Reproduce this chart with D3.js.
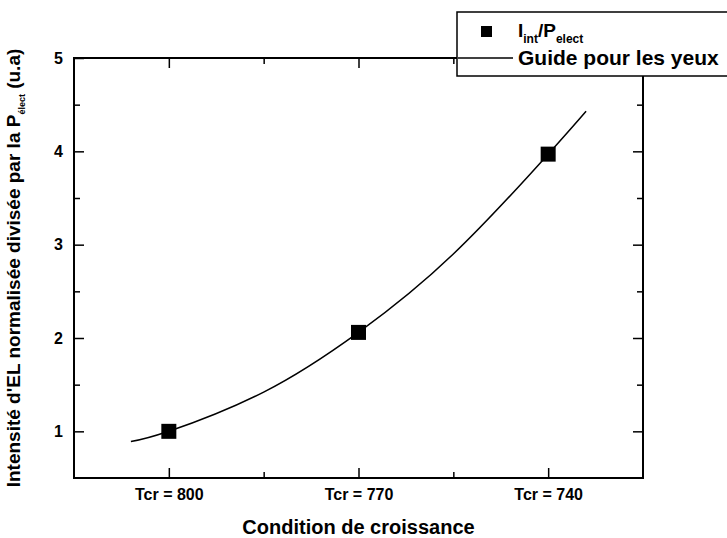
<!DOCTYPE html>
<html lang="fr">
<head>
  <meta charset="UTF-8">
  <title>Intensité EL</title>
  <style>
    body { margin: 0; background: #fff; }
    svg text { font-family: "Liberation Sans", Arial, sans-serif; font-weight: bold; fill: #000; }
  </style>
</head>
<body>
<div id="chart"></div>

<script src="https://cdn.jsdelivr.net/npm/d3@7/dist/d3.min.js"></script>
<script>
  // data
  const categories = ["Tcr = 800", "Tcr = 770", "Tcr = 740"];
  const ratioValues = [1.0, 2.06, 3.97];
  // guide curve ("Guide pour les yeux")
  const guideX = [-0.2, 0, 0.5, 1, 1.5, 2, 2.2];
  const guideY = [0.89, 1.0, 1.42, 2.06, 2.90, 3.97, 4.43];
  const yTicks = [1, 2, 3, 4, 5];
  const yMinorTicks = [1.5, 2.5, 3.5, 4.5];

  const W = 727, H = 538;
  const margin = {top: 58, right: 84, bottom: 60, left: 74},
    width = W - margin.left - margin.right,
    height = H - margin.top - margin.bottom;

  const svg = d3.select("#chart")
    .append("svg")
    .attr("width", W)
    .attr("height", H);

  const g = svg.append("g")
    .attr("transform", "translate(" + margin.left + "," + margin.top + ")");

  const x = d3.scaleLinear().domain([-0.5, 2.5]).range([0, width]);
  const y = d3.scaleLinear().domain([0.5, 5]).range([height, 0]);

  const catIdx = categories.map((d, i) => i);
  const xMinor = [0.5, 1.5];

  function styleAxis(sel) {
    sel.select(".domain").remove();
    sel.selectAll("line").attr("stroke", "#000").attr("stroke-width", 1.5);
    sel.selectAll("text").style("font-size", "16px");
  }

  // bottom axis
  g.append("g")
    .attr("transform", "translate(0," + height + ")")
    .call(d3.axisBottom(x).tickValues(catIdx).tickFormat(i => categories[i])
      .tickSizeInner(-10).tickSizeOuter(0).tickPadding(11))
    .call(styleAxis);
  g.append("g")
    .attr("transform", "translate(0," + height + ")")
    .call(d3.axisBottom(x).tickValues(xMinor).tickFormat("").tickSizeInner(-6).tickSizeOuter(0))
    .call(styleAxis);

  // top axis
  g.append("g")
    .call(d3.axisTop(x).tickValues(catIdx).tickFormat("").tickSizeInner(-10).tickSizeOuter(0))
    .call(styleAxis);
  g.append("g")
    .call(d3.axisTop(x).tickValues(xMinor).tickFormat("").tickSizeInner(-6).tickSizeOuter(0))
    .call(styleAxis);

  // left axis
  g.append("g")
    .call(d3.axisLeft(y).tickValues(yTicks).tickFormat(d3.format("d"))
      .tickSizeInner(-10).tickSizeOuter(0).tickPadding(11))
    .call(styleAxis);
  g.append("g")
    .call(d3.axisLeft(y).tickValues(yMinorTicks).tickFormat("").tickSizeInner(-6).tickSizeOuter(0))
    .call(styleAxis);

  // right axis
  g.append("g")
    .attr("transform", "translate(" + width + ",0)")
    .call(d3.axisRight(y).tickValues(yTicks).tickFormat("").tickSizeInner(-10).tickSizeOuter(0))
    .call(styleAxis);
  g.append("g")
    .attr("transform", "translate(" + width + ",0)")
    .call(d3.axisRight(y).tickValues(yMinorTicks).tickFormat("").tickSizeInner(-6).tickSizeOuter(0))
    .call(styleAxis);

  // frame
  g.append("rect")
    .attr("width", width)
    .attr("height", height)
    .attr("fill", "none")
    .attr("stroke", "#000")
    .attr("stroke-width", 2);

  // guide curve
  const line = d3.line()
    .x((d, i) => x(guideX[i]))
    .y(d => y(d))
    .curve(d3.curveNatural);
  g.append("path")
    .datum(guideY)
    .attr("d", line)
    .attr("fill", "none")
    .attr("stroke", "#000")
    .attr("stroke-width", 1.5);

  // markers
  const ms = 15;
  g.selectAll(".pt")
    .data(ratioValues)
    .enter()
    .append("rect")
    .attr("class", "pt")
    .attr("x", (d, i) => x(i) - ms / 2)
    .attr("y", d => y(d) - ms / 2)
    .attr("width", ms)
    .attr("height", ms)
    .attr("fill", "#000");

  // axis titles
  svg.append("text")
    .attr("x", margin.left + width / 2)
    .attr("y", 534)
    .attr("text-anchor", "middle")
    .style("font-size", "20px")
    .text("Condition de croissance");

  const yl = svg.append("text")
    .attr("transform", "translate(20," + (margin.top + height / 2) + ") rotate(-90)")
    .attr("text-anchor", "middle")
    .style("font-size", "19px");
  yl.append("tspan").text("Intensité d'EL normalisée divisée par la P");
  yl.append("tspan").attr("dy", 5).style("font-size", "9px").text("élect");
  yl.append("tspan").attr("dy", -5).text(" (u.a)");

  // legend
  const lg = svg.append("g");
  lg.append("rect")
    .attr("x", 457).attr("y", 12)
    .attr("width", 290).attr("height", 64)
    .attr("fill", "#fff")
    .attr("stroke", "#000")
    .attr("stroke-width", 1.5);
  lg.append("rect")
    .attr("x", 481).attr("y", 26)
    .attr("width", 11).attr("height", 11)
    .attr("fill", "#000");
  const t1 = lg.append("text").attr("x", 518).attr("y", 37).style("font-size", "19px");
  t1.append("tspan").text("I");
  t1.append("tspan").attr("dy", 6).style("font-size", "12px").text("int");
  t1.append("tspan").attr("dy", -6).text("/P");
  t1.append("tspan").attr("dy", 6).style("font-size", "12px").text("elect");
  lg.append("line")
    .attr("x1", 458).attr("x2", 513)
    .attr("y1", 58).attr("y2", 58)
    .attr("stroke", "#000")
    .attr("stroke-width", 1.5);
  lg.append("text").attr("x", 518).attr("y", 65).style("font-size", "21px").text("Guide pour les yeux");
</script>
</body>
</html>
